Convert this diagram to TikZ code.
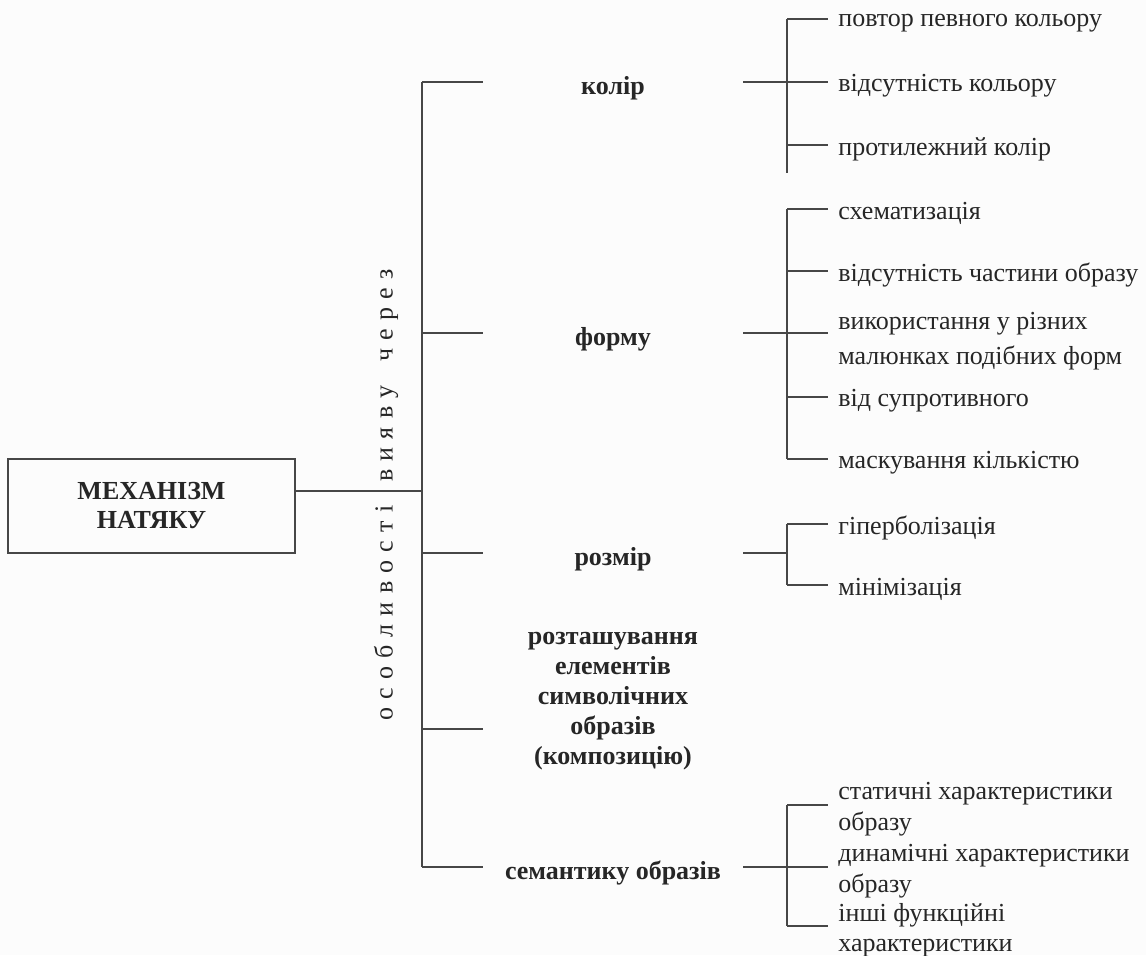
\documentclass[tikz,border=0pt]{standalone}
\usepackage{fontspec}
\setmainfont{Liberation Serif}
\usetikzlibrary{positioning}

\definecolor{ink}{HTML}{262626}
\definecolor{paper}{HTML}{FCFCFC}

% spacing of the rotated caption
\newcommand{\lsp}{\hspace{4.1pt}}
\newcommand{\wsp}{\hspace{12pt}}

\tikzset{
  line/.style={draw=ink!85, line width=0.55pt},
  mainbox/.style={draw=ink!85, line width=0.55pt, minimum width=143.5pt, minimum height=47pt,
    font=\fontsize{13}{14.5}\selectfont\bfseries, align=center, text=ink},
  cat/.style={font=\fontsize{13}{15}\selectfont\bfseries, align=center, minimum width=130pt,
    inner sep=0pt, text=ink, yshift=-3pt},
  leaf/.style={anchor=west, align=left, inner xsep=5pt, inner ysep=0pt, text=ink,
    font=\fontsize{13}{15.5}\selectfont, yshift=-2pt},
}

\begin{document}
\begin{tikzpicture}[x=0.5pt, y=-0.5pt]
      % page
      \useasboundingbox[fill=paper] (0,0) rectangle (1146,955);

      % main box
      \node[mainbox] (mech) at (151.5,506) {МЕХАНІЗМ\\НАТЯКУ};

      % rotated caption
      \node[rotate=90, text=ink, font=\fontsize{13}{15}\selectfont, inner sep=0pt] (via) at (386,495)
        {о\lsp с\lsp о\lsp б\lsp л\lsp и\lsp в\lsp о\lsp с\lsp т\lsp і\wsp в\lsp и\lsp я\lsp в\lsp у\wsp ч\lsp е\lsp р\lsp е\lsp з};

      % spine
      \coordinate (sTop) at (422,82);
      \coordinate (sBot) at (422,867);
      \coordinate (sMid) at (422,491);
      \draw[line] (sTop) -- (sBot);
      \draw[line] (mech.east |- sMid) -- (sMid);

      % categories
      \node[cat] (col)   at (613,82)  {колір};
      \node[cat] (form)  at (613,333) {форму};
      \node[cat] (size)  at (613,553) {розмір};
      \node[cat] (place) at (613,695) {розташування\\елементів\\символічних\\образів\\(композицію)};
      \node[cat] (sem)   at (613,867) {семантику образів};
      \coordinate (placeL) at (483,729);

      \draw[line] (sTop) -- ([yshift=3pt]col.west);
      \draw[line] ([yshift=3pt]form.west -| sTop) -- ([yshift=3pt]form.west);
      \draw[line] ([yshift=3pt]size.west -| sTop) -- ([yshift=3pt]size.west);
      \draw[line] (placeL -| sTop) -- (placeL);
      \draw[line] (sBot) -- ([yshift=3pt]sem.west);

      % sub spines
      \coordinate (cSp) at (787,82);
      \coordinate (fSp) at (787,333);
      \coordinate (zSp) at (787,553);
      \coordinate (mSp) at (787,867);
      \draw[line] ([yshift=3pt]col.east) -- (cSp);
      \draw[line] ([yshift=3pt]form.east) -- (fSp);
      \draw[line] ([yshift=3pt]size.east) -- (zSp);
      \draw[line] ([yshift=3pt]sem.east) -- (mSp);

      % colour leaves
      \node[leaf] (c1) at (828,19)  {повтор певного кольору};
      \node[leaf] (c2) at (828,82)  {відсутність кольору};
      \node[leaf] (c3) at (828,145) {протилежний колір};
      \coordinate (cEnd) at (787,173);
      \draw[line] ([yshift=2pt]c1.west -| cSp) -- (cEnd);

      % form leaves
      \node[leaf] (f1) at (828,209) {схематизація};
      \node[leaf] (f2) at (828,271) {відсутність частини образу};
      \node[leaf, font=\fontsize{13}{17.5}\selectfont] (f3) at (828,337) {використання у різних\\малюнках подібних форм};
      \node[leaf] (f4) at (828,397) {від супротивного};
      \node[leaf] (f5) at (828,459) {маскування кількістю};
      \draw[line] ([yshift=2pt]f1.west -| fSp) -- ([yshift=2pt]f5.west -| fSp);

      % size leaves
      \node[leaf] (z1) at (828,524) {гіперболізація};
      \node[leaf] (z2) at (828,585) {мінімізація};
      \draw[line] ([yshift=2pt]z1.west -| zSp) -- ([yshift=2pt]z2.west -| zSp);

      % semantics leaves
      \node[leaf] (m1) at (828,805) {статичні характеристики\\образу};
      \node[leaf] (m2) at (828,867) {динамічні характеристики\\образу};
      \node[leaf, font=\fontsize{13}{15}\selectfont] (m3) at (828,926) {інші функційні\\характеристики};
      \draw[line] ([yshift=2pt]m1.west -| mSp) -- ([yshift=2pt]m3.west -| mSp);

      % leaf ticks
      \foreach \n/\s in {c1/cSp, c2/cSp, c3/cSp, f1/fSp, f2/fSp, f4/fSp, f5/fSp, z1/zSp, z2/zSp, m1/mSp, m2/mSp, m3/mSp}
        \draw[line] ([yshift=2pt]\n.west -| \s) -- ([yshift=2pt]\n.west);
      \draw[line] (fSp) -- (f3.west |- fSp);
    \end{tikzpicture}
\end{document}
